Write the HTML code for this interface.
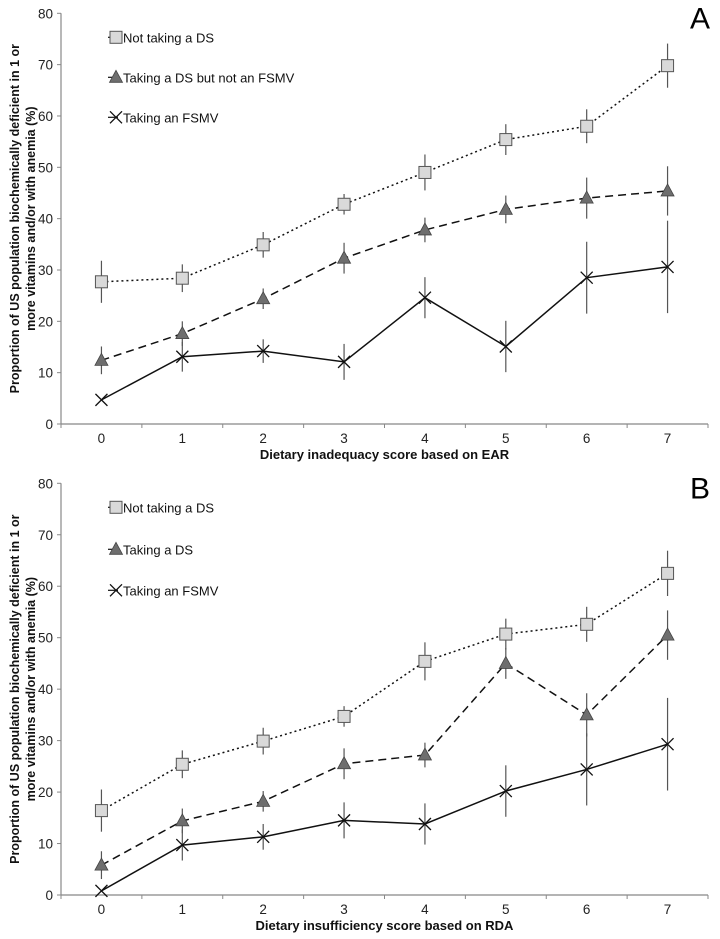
<!DOCTYPE html>
<html><head><meta charset="utf-8"><style>
html,body{margin:0;padding:0;background:#fff;}
svg{display:block;font-family:"Liberation Sans",Arial,sans-serif;}
</style></head><body>
<svg id="chart" width="720" height="939" viewBox="0 0 720 939" xmlns="http://www.w3.org/2000/svg"></svg>
<script>
const categories=[0,1,2,3,4,5,6,7];
const yTicks=[0,10,20,30,40,50,60,70,80];
// Panel A
const aNoDS=[27.7,28.4,34.9,42.8,49,55.4,58,69.8];
const aNoDSErr=[4.1,2.7,2.5,2,3.5,3,3.3,4.3];
const aDS=[12.4,17.6,24.4,32.3,37.8,41.8,44,45.4];
const aDSErr=[2.7,2.4,2,3,2.4,2.7,4,4.8];
const aFSMV=[4.7,13.1,14.2,12.1,24.6,15.1,28.5,30.6];
const aFSMVErr=[0,2.9,2.3,3.5,4,5,7,9];
// Panel B
const bNoDS=[16.4,25.4,29.9,34.7,45.4,50.7,52.6,62.5];
const bNoDSErr=[4.1,2.7,2.6,2,3.7,3,3.4,4.4];
const bDS=[5.8,14.4,18.2,25.5,27.2,45,35,50.5];
const bDSErr=[2.7,2.4,2,3,2.4,3,4.2,4.8];
const bFSMV=[0.8,9.7,11.3,14.5,13.8,20.2,24.4,29.3];
const bFSMVErr=[0,3,2.5,3.5,4,5,7,9];

const NS="http://www.w3.org/2000/svg";
const svg=document.getElementById('chart');
function mk(tag,attrs,parent){const e=document.createElementNS(NS,tag);for(const k in attrs)e.setAttribute(k,attrs[k]);(parent||svg).appendChild(e);return e;}

function panel(p){
  const g=mk('g',{});
  
  
  const x0=61,x1=708,y0=p.yBottom,y1=p.yTop;
  const step=(x1-x0)/categories.length;
  const xs=i=>x0+step*(i+0.5);
  const ys=v=>y0-(v/80)*(y0-y1);
  const ax=mk('line',{x1:x0,y1:y1,x2:x0,y2:y0,stroke:'#888','stroke-width':1.2},g);
  
  
  const bx=mk('line',{x1:x0,y1:y0,x2:x1,y2:y0,stroke:'#888','stroke-width':1.2},g);
  
  
  yTicks.forEach(t=>{
    mk('line',{x1:x0-4,y1:ys(t),x2:x0,y2:ys(t),stroke:'#888'},g);
    const tx=mk('text',{x:x0-8,y:ys(t)+5,'text-anchor':'end','font-size':13.5,fill:'#222'},g);
    tx.textContent=t;
    
    
  });
  for(let i=0;i<=categories.length;i++){
    mk('line',{x1:x0+step*i,y1:y0,x2:x0+step*i,y2:y0+4,stroke:'#888'},g);
  }
  categories.forEach((c,i)=>{
    const tx=mk('text',{x:xs(i),y:y0+19,'text-anchor':'middle','font-size':13.5,fill:'#222'},g);
    tx.textContent=c;
    
    
  });
  const xt=mk('text',{x:(x0+x1)/2,y:y0+35,'text-anchor':'middle','font-size':13,'font-weight':'bold',fill:'#111'},g);
  xt.textContent=p.xTitle;
  
  
  const cy=(y0+y1)/2;
  const yt=mk('text',{transform:`translate(19,${cy}) rotate(-90)`,'text-anchor':'middle','font-size':12.5,'font-weight':'bold',fill:'#111'},g);
  const t1=mk('tspan',{x:0,dy:0},yt);t1.textContent='Proportion of US population biochemically deficient in 1 or';
  const t2=mk('tspan',{x:0,dy:16},yt);t2.textContent='more vitamins and/or with anemia (%)';
  
  
  const lab=mk('text',{x:700,y:y1+15,'text-anchor':'middle','font-size':30,fill:'#000'},g);
  lab.textContent=p.label;
  
  

  function marker(type,x,y,parent){
    if(type==='sq') return mk('rect',{x:x-6,y:y-6,width:12,height:12,fill:'#d9d9d9',stroke:'#555','stroke-width':1},parent);
    if(type==='tri') return mk('polygon',{points:`${x},${y-7} ${x-6.5},${y+5} ${x+6.5},${y+5}`,fill:'#6e6e6e',stroke:'#444','stroke-width':0.8},parent);
    return mk('path',{d:`M${x-6},${y-6}L${x+6},${y+6}M${x+6},${y-6}L${x-6},${y+6}`,stroke:'#111','stroke-width':1.3,fill:'none'},parent);
  }
  p.series.forEach(s=>{
    const sg=mk('g',{},g);
    
    
    const pts=s.vals.map((v,i)=>`${xs(i)},${ys(v)}`).join(' ');
    const line=mk('polyline',{points:pts,fill:'none',stroke:'#111','stroke-width':1.5,'stroke-dasharray':s.dash},sg);
    
    
    s.vals.forEach((v,i)=>{
      const e=s.err[i];
      if(e>0){
        const eb=mk('line',{x1:xs(i),y1:ys(v+e),x2:xs(i),y2:ys(v-e),stroke:'#555','stroke-width':1.2},sg);
        
        
      }
    });
    s.vals.forEach((v,i)=>{
      const m=marker(s.marker,xs(i),ys(v),sg);
      
      
    });
    const lg=mk('g',{},g);
    
    
    mk('line',{x1:108,y1:y1+s.ly,x2:118,y2:y1+s.ly,stroke:'#111','stroke-width':1.2},lg);
    marker(s.marker,116,y1+s.ly,lg);
    const lt=mk('text',{x:123,y:y1+s.ly+5,'font-size':13,fill:'#111'},lg);
    lt.textContent=s.label;
  });
}
panel({name:'panel-a',label:'A',yTop:13.3,yBottom:424,xTitle:'Dietary inadequacy score based on EAR',series:[
 {id:'not-taking-ds',label:'Not taking a DS',vals:aNoDS,err:aNoDSErr,marker:'sq',dash:'2,3',ly:24},
 {id:'ds-not-fsmv',label:'Taking a DS but not an FSMV',vals:aDS,err:aDSErr,marker:'tri',dash:'8,5',ly:64},
 {id:'taking-fsmv',label:'Taking an FSMV',vals:aFSMV,err:aFSMVErr,marker:'x',dash:'none',ly:104}]});
panel({name:'panel-b',label:'B',yTop:483.3,yBottom:895,xTitle:'Dietary insufficiency score based on RDA',series:[
 {id:'not-taking-ds',label:'Not taking a DS',vals:bNoDS,err:bNoDSErr,marker:'sq',dash:'2,3',ly:24},
 {id:'taking-ds',label:'Taking a DS',vals:bDS,err:bDSErr,marker:'tri',dash:'8,5',ly:66},
 {id:'taking-fsmv',label:'Taking an FSMV',vals:bFSMV,err:bFSMVErr,marker:'x',dash:'none',ly:107}]});
</script>
</body></html>
